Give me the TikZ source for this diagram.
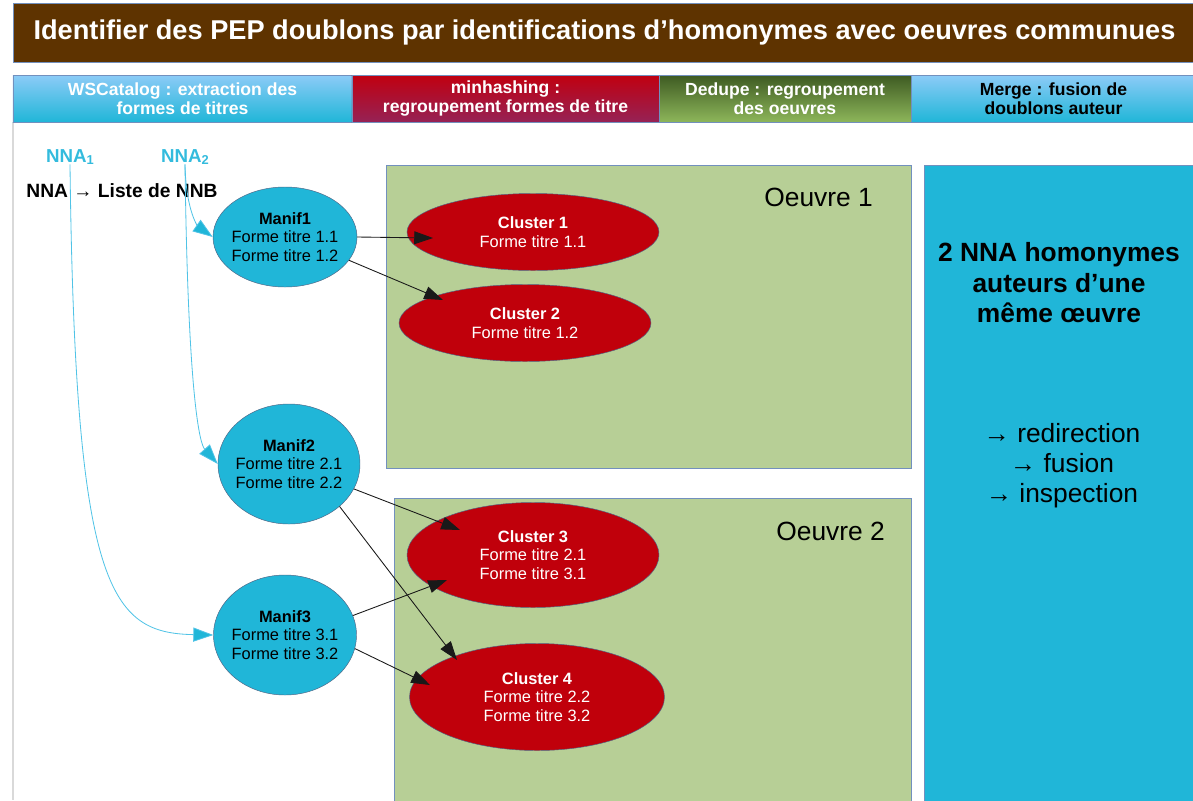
\documentclass[tikz,border=0pt]{standalone}
\usepackage{fontspec}
\setmainfont{Liberation Sans}
\usetikzlibrary{arrows.meta, calc, shapes.geometric}

\definecolor{titlebrown}{RGB}{94,51,0}
\definecolor{panelcyan}{RGB}{32,182,216}
\definecolor{skyblue}{RGB}{140,203,247}
\definecolor{clusterred}{RGB}{192,0,11}
\definecolor{oeuvregreen}{RGB}{183,207,150}
\definecolor{edgeblue}{RGB}{114,144,190}
\definecolor{nnacyan}{RGB}{51,187,221}
\definecolor{linkcyan}{RGB}{80,195,230}
\definecolor{minred}{RGB}{192,0,16}
\definecolor{minpurple}{RGB}{150,34,85}
\definecolor{dedupedark}{RGB}{62,90,34}
\definecolor{dedupelight}{RGB}{141,182,90}

\tikzset{
  titlebar/.style={draw=edgeblue, fill=titlebrown, text=white, inner sep=0pt,
    minimum width=35.49cm, minimum height=1.77cm, font=\fontsize{23.2}{26}\selectfont\bfseries},
  header/.style={draw=edgeblue, line width=0.6pt, minimum height=1.41cm, inner sep=0pt,
    align=center, text=white, font=\fontsize{15}{16.5}\selectfont\bfseries},
  manif/.style={ellipse, draw=edgeblue!70!black, fill=panelcyan, inner xsep=-5pt, inner ysep=0pt,
    align=center, font=\fontsize{14}{16}\selectfont},
  cluster/.style={ellipse, draw=edgeblue!70!black, fill=clusterred, inner sep=0pt,
    align=center, text=white, font=\fontsize{14}{16}\selectfont},
  oeuvre/.style={draw=edgeblue, fill=oeuvregreen, line width=0.6pt, inner sep=0pt},
  flow/.style={draw=black!90, line width=0.75pt, -{Triangle[length=16pt, width=11pt]}},
  nnalink/.style={draw=linkcyan, line width=0.7pt, -{Triangle[length=17pt, width=12pt, fill=panelcyan]}},
  nnalabel/.style={text=nnacyan, inner sep=0pt, font=\fontsize{16}{18}\selectfont\bfseries},
}

\begin{document}
\begin{tikzpicture}[x=0.03cm, y=-0.03cm]
    \useasboundingbox (0,0) rectangle (1193,800);
    \draw[black!15, line width=1.5pt] (13,122) -- (13,800);

    % Title and steps
    \node[titlebar] (title) at (604.5, 32.5) {Identifier des PEP doublons par identifications d’homonymes avec oeuvres communues};
    \node[header, minimum width=10.17cm, top color=skyblue, bottom color=panelcyan] (wscatalog) at (182.5, 98.5) {WSCatalog : extraction des\\formes de titres};
    \node[header, minimum width=9.21cm, top color=minred, bottom color=minpurple] (minhashing) at (505.5, 98.5) {minhashing :\\regroupement formes de titre};
    \node[header, minimum width=7.56cm, top color=dedupedark, bottom color=dedupelight] (dedupe) at (785, 98.5) {Dedupe : regroupement\\des oeuvres};
    \node[header, minimum width=8.55cm, top color=skyblue, bottom color=panelcyan, text=black] (merge) at (1053.5, 98.5) {Merge : fusion de\\doublons auteur};

    % Oeuvres and result panel
    \node[oeuvre, minimum width=15.75cm, minimum height=9.09cm] (oeuvre1) at (648.5, 316.5) {};
    \node[oeuvre, minimum width=15.51cm, minimum height=9.21cm] (oeuvre2) at (652.5, 651.5) {};
    \node[oeuvre, fill=panelcyan, minimum width=8.22cm, minimum height=19.2cm] (panel) at (1061, 485) {};
    \node[anchor=east, inner sep=0pt, font=\fontsize{22.5}{24}\selectfont] (oeuvre1label) at (873, 197) {Oeuvre 1};
    \node[anchor=east, inner sep=0pt, font=\fontsize{22.5}{24}\selectfont] (oeuvre2label) at (885, 531) {Oeuvre 2};
    \node[align=center, inner sep=0pt, font=\fontsize{22.5}{26}\selectfont\bfseries] (verdict) at (1059, 283) {2 NNA homonymes\\auteurs d’une\\même œuvre};
    \node[align=center, inner sep=0pt, font=\fontsize{22.5}{25.6}\selectfont] (actions) at (1062, 466) {→ redirection\\→ fusion\\→ inspection};

    % NNA
    \node[nnalabel] (nna1) at (70, 157) {NNA\raisebox{-1pt}{\fontsize{11}{11}\selectfont 1}};
    \node[nnalabel] (nna2) at (185, 157) {NNA\raisebox{-1pt}{\fontsize{11}{11}\selectfont 2}};
    \node[inner sep=0pt, font=\fontsize{16.4}{18}\selectfont\bfseries] (liste) at (122, 191) {NNA → Liste de NNB};

    % Manifestations
    \node[manif, minimum width=4.32cm, minimum height=3cm] (manif1) at (285, 237) {\textbf{Manif1}\\Forme titre 1.1\\Forme titre 1.2};
    \node[manif, minimum width=4.26cm, minimum height=3.6cm] (manif2) at (289, 464) {\textbf{Manif2}\\Forme titre 2.1\\Forme titre 2.2};
    \node[manif, minimum width=4.29cm, minimum height=3.6cm] (manif3) at (285, 635) {\textbf{Manif3}\\Forme titre 3.1\\Forme titre 3.2};

    % Clusters
    \node[cluster, minimum width=7.56cm, minimum height=2.31cm] (cluster1) at (533, 232) {\textbf{Cluster 1}\\Forme titre 1.1};
    \node[cluster, minimum width=7.56cm, minimum height=2.31cm] (cluster2) at (525, 323) {\textbf{Cluster 2}\\Forme titre 1.2};
    \node[cluster, minimum width=7.56cm, minimum height=3.15cm] (cluster3) at (533, 555) {\textbf{Cluster 3}\\Forme titre 2.1\\Forme titre 3.1};
    \node[cluster, minimum width=7.65cm, minimum height=3.21cm] (cluster4) at (537, 697) {\textbf{Cluster 4}\\Forme titre 2.2\\Forme titre 3.2};

    \draw[nnalink] (nna1.south) .. controls (75, 590) and (110, 633) .. (manif3.west);
    \draw[nnalink] (nna2.south) .. controls (186, 215) and (200, 228) .. (manif1.west);
    \draw[nnalink] (nna2.south) .. controls (188, 400) and (200, 444) .. (manif2.west);

    \draw[flow] (manif1.east) -- ($(cluster1)+(-100, 6)$);
    \draw[flow] (manif1.-20) -- ($(cluster2)+(-82, -23)$);
    \draw[flow] (manif2.-21) -- ($(cluster3)+(-73, -25)$);
    \draw[flow] (manif2.-40) -- ($(cluster4)+(-80, -37)$);
    \draw[flow] (manif3.16) -- ($(cluster3)+(-86, 25)$);
    \draw[flow] (manif3.-11) -- ($(cluster4)+(-107, -12)$);
\end{tikzpicture}
\end{document}
